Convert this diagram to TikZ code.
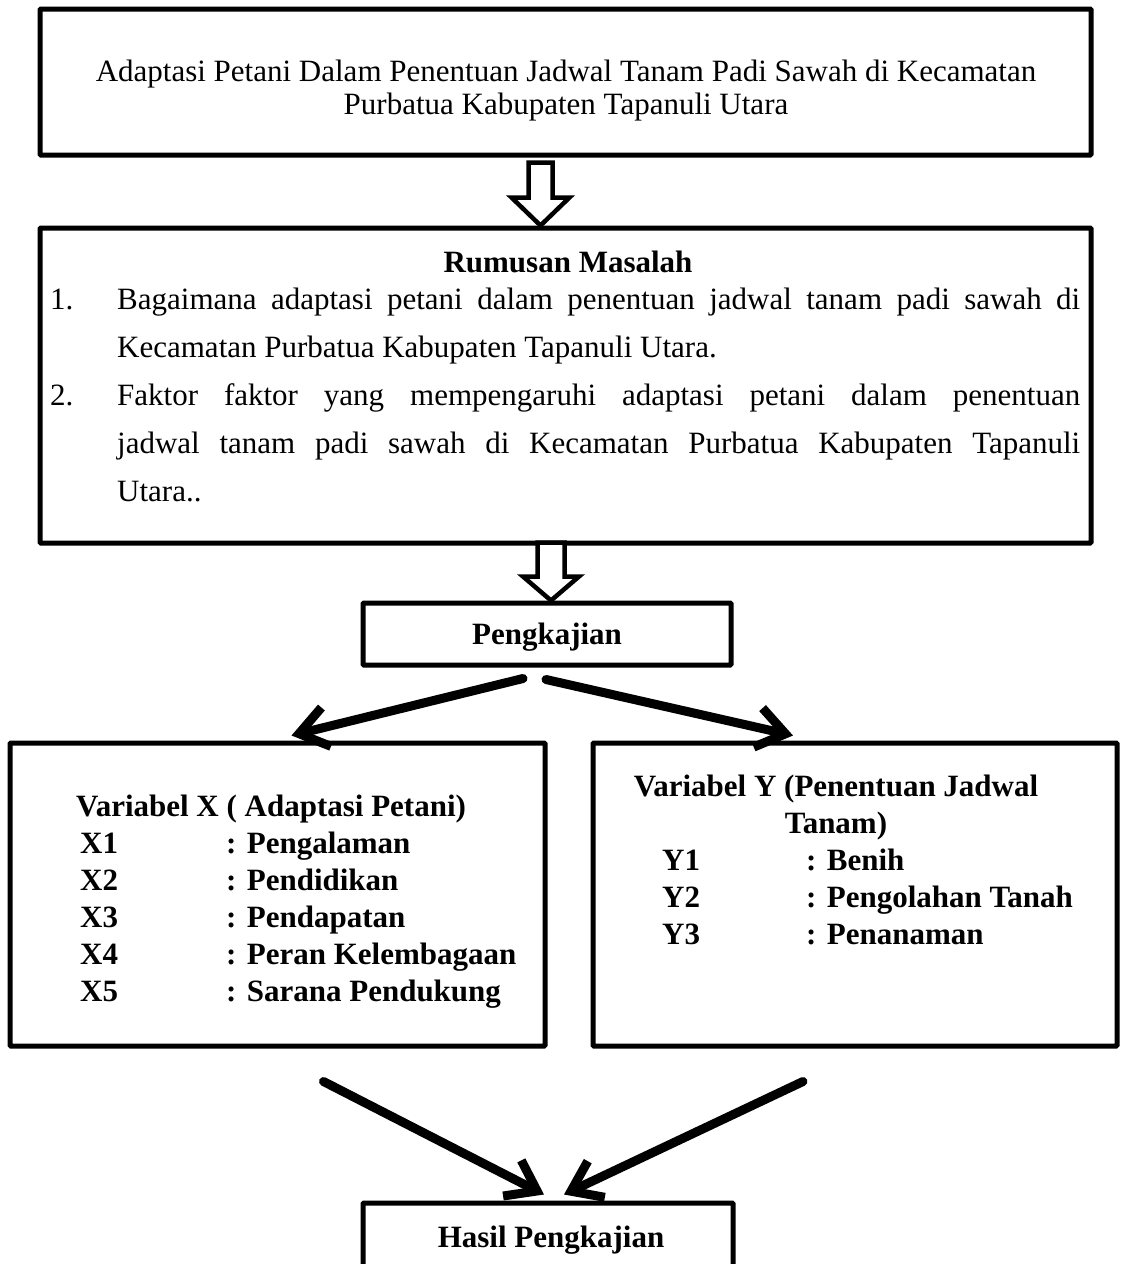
\documentclass[tikz,border=0pt]{standalone}
\usepackage{fontspec}
\setmainfont{Liberation Serif}
\usetikzlibrary{arrows.meta,calc}
\hyphenpenalty=10000
\newcommand\lentur{\tolerance=9999 \emergencystretch=3em\relax}

\begin{document}
\begin{tikzpicture}
                [x=1pt, y=-1pt,
                bsty/.style={draw, line width=5pt, rounded corners=1pt, inner sep=0pt},
                tsty/.style={inner sep=0pt, font=\fontsize{31}{33}\selectfont},
                lsty/.style={inner sep=0pt, font=\fontsize{31}{48}\selectfont\lentur, text width=963pt, align=justify, anchor=base west},
                ksty/.style={inner sep=0pt, font=\fontsize{31}{37}\selectfont\bfseries, anchor=base west},
                hsty/.style={draw, fill=white, line width=4.5pt, line join=miter},
                asty/.style={line width=9pt, line cap=round, -{Straight Barb[length=28pt, width=40pt]}}]
                \useasboundingbox[fill=white] (0,0) rectangle (1127,1264);
                % judul
                \node[bsty, minimum width=1051pt, minimum height=146pt] (judul) at (565.5,82) {};
                \node[tsty, align=center, anchor=base] (judulteks) at (566,114)
                    {Adaptasi Petani Dalam Penentuan Jadwal Tanam Padi Sawah di Kecamatan\\ Purbatua Kabupaten Tapanuli Utara};
                % rumusan masalah
                \node[bsty, minimum width=1051pt, minimum height=315pt] (rumusan) at (565.5,385.5) {};
                \node[tsty, font=\fontsize{31}{33}\selectfont\bfseries, anchor=base] (rumjudul) at (568,272) {Rumusan Masalah};
                \node[tsty, anchor=base west] (no1) at (50,309) {1.};
                \node[lsty] (isi1) at (117,309)
                    {Bagaimana adaptasi petani dalam penentuan jadwal tanam padi sawah di\linebreak Kecamatan Purbatua Kabupaten Tapanuli Utara.};
                \node[tsty, anchor=base west] (no2) at (50,405) {2.};
                \node[lsty] (isi2) at (117,405)
                    {Faktor faktor yang mempengaruhi adaptasi petani dalam penentuan\linebreak jadwal tanam padi sawah di Kecamatan Purbatua Kabupaten Tapanuli\linebreak Utara..};
                % pengkajian
                \node[bsty, minimum width=368pt, minimum height=62pt] (kaji) at (547,634) {};
                \node[ksty, anchor=base] (kajiteks) at (547,644) {Pengkajian};
                % variabel x
                \node[bsty, minimum width=535pt, minimum height=303pt] (varx) at (277.5,894.5) {};
                \node[ksty] (xjudul) at (76,816) {Variabel X ( Adaptasi Petani)};
                \node[ksty] (x1) at (80,853) {X1};
                \node[ksty] (x1k) at (226,853) {: Pengalaman};
                \node[ksty] (x2) at (80,890) {X2};
                \node[ksty] (x2k) at (226,890) {: Pendidikan};
                \node[ksty] (x3) at (80,927) {X3};
                \node[ksty] (x3k) at (226,927) {: Pendapatan};
                \node[ksty] (x4) at (80,964) {X4};
                \node[ksty] (x4k) at (226,964) {: Peran Kelembagaan};
                \node[ksty] (x5) at (80,1001) {X5};
                \node[ksty] (x5k) at (226,1001) {: Sarana Pendukung};
                % variabel y
                \node[bsty, minimum width=524pt, minimum height=303pt] (vary) at (855,894.5) {};
                \node[ksty, align=center, anchor=base] (yjudul) at (836,833) {Variabel Y (Penentuan Jadwal\\ Tanam)};
                \node[ksty] (y1) at (662,870) {Y1};
                \node[ksty] (y1k) at (806,870) {: Benih};
                \node[ksty] (y2) at (662,907) {Y2};
                \node[ksty] (y2k) at (806,907) {: Pengolahan Tanah};
                \node[ksty] (y3) at (662,944) {Y3};
                \node[ksty] (y3k) at (806,944) {: Penanaman};
                % hasil
                \node[bsty, minimum width=370pt, minimum height=68pt] (hasil) at (548,1237) {};
                \node[ksty, anchor=base] (hasilteks) at (551,1247) {Hasil Pengkajian};
                % panah blok
                \coordinate (u1) at ($(rumusan.north)+(-25,0)$);
                \draw[hsty] (u1) -- ++(-29,-28) -- ++(17,0) -- ++(0,-35) -- ++(24,0) -- ++(0,35) -- ++(17,0) -- cycle;
                \coordinate (u2) at ($(kaji.north)+(4,0)$);
                \draw[hsty] (u2) -- ++(-28,-24) -- ++(14.5,0) -- ++(0,-34) -- ++(27,0) -- ++(0,34) -- ++(14.5,0) -- cycle;
                % panah cabang
                \coordinate (kl) at ($(kaji.south)+(-24,11)$);
                \coordinate (kr) at ($(kaji.south)+(-1,12)$);
                \draw[asty] (kl) -- ($(varx.north)+(14,-5)$);
                \draw[asty] (kr) -- ($(vary.north)+(-62,-5)$);
                \coordinate (xl) at ($(varx.south)+(46,33)$);
                \coordinate (yr) at ($(vary.south)+(-52,33)$);
                \draw[asty] (xl) -- ($(hasil.north)+(-4,-6)$);
                \draw[asty] (yr) -- ($(hasil.north)+(16,-6)$);
\end{tikzpicture}
\end{document}
